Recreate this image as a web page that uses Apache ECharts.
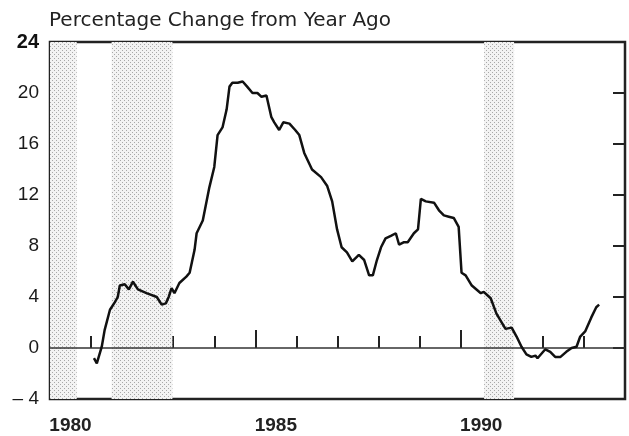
<!DOCTYPE html>
<html>
<head>
<meta charset="utf-8">
<script src="https://cdn.jsdelivr.net/npm/echarts@6/dist/echarts.min.js"></script>
<style>
  html, body { margin: 0; padding: 0; background: #fff; }
  #main { width: 629px; height: 436px; }
</style>
</head>
<body>
<div id="main"></div>
<script>
  // year-over-year percentage change (year as decimal)
  const years = [
    1981.07, 1981.14, 1981.26, 1981.33, 1981.46, 1981.58, 1981.65, 1981.70, 1981.82, 1981.92,
    1982.02, 1982.14, 1982.35, 1982.60, 1982.72, 1982.82, 1982.89, 1982.96, 1983.03, 1983.15,
    1983.32, 1983.40, 1983.52, 1983.57, 1983.72, 1983.88, 1984.00, 1984.08, 1984.20, 1984.30,
    1984.37, 1984.44, 1984.57, 1984.69, 1984.80, 1984.93, 1985.05, 1985.15, 1985.27, 1985.39,
    1985.46, 1985.58, 1985.68, 1985.83, 1985.97, 1986.07, 1986.19, 1986.38, 1986.60, 1986.75,
    1986.87, 1986.99, 1987.10, 1987.23, 1987.36, 1987.52, 1987.65, 1987.77, 1987.86, 1987.96,
    1988.06, 1988.17, 1988.30, 1988.42, 1988.50, 1988.62, 1988.71, 1988.86, 1988.96, 1989.03,
    1989.15, 1989.35, 1989.47, 1989.59, 1989.71, 1989.83, 1989.95, 1990.02, 1990.12, 1990.27,
    1990.49, 1990.56, 1990.73, 1990.87, 1991.09, 1991.24, 1991.36, 1991.48, 1991.60, 1991.72,
    1991.82, 1991.87, 1992.06, 1992.18, 1992.30, 1992.43, 1992.57, 1992.70, 1992.82, 1992.91,
    1993.03, 1993.18, 1993.30, 1993.37
  ];
  const changes = [
    -0.8, -1.2, 0.1, 1.4, 3.0, 3.6, 4.0, 4.9, 5.0, 4.6,
    5.2, 4.6, 4.3, 4.0, 3.4, 3.5, 4.0, 4.7, 4.3, 5.1,
    5.6, 5.9, 7.7, 9.0, 10.0, 12.6, 14.2, 16.7, 17.3, 18.7,
    20.5, 20.8, 20.8, 20.9, 20.5, 20.0, 20.0, 19.7, 19.8, 18.1,
    17.7, 17.1, 17.7, 17.6, 17.1, 16.7, 15.3, 14.0, 13.4, 12.7,
    11.5, 9.3, 7.9, 7.5, 6.8, 7.3, 6.9, 5.7, 5.7, 6.9,
    7.9, 8.6, 8.8, 9.0, 8.1, 8.3, 8.3, 9.0, 9.3, 11.7,
    11.5, 11.4, 10.8, 10.4, 10.3, 10.2, 9.5, 5.9, 5.7, 4.9,
    4.3, 4.4, 3.9, 2.7, 1.5, 1.6, 0.9, 0.1, -0.5, -0.7,
    -0.6, -0.8, -0.1, -0.3, -0.7, -0.7, -0.3, 0.0, 0.1, 0.9,
    1.3, 2.4, 3.2, 3.4
  ];
  // shaded recession periods
  const recessions = [[1980.0, 1980.65], [1981.5, 1982.98], [1990.57, 1991.3]];
  const labeledYears = [1980, 1985, 1990];

  // dotted fill like the printed stipple
  function makeDots() {
    const c = document.createElement('canvas');
    c.width = 4; c.height = 4;
    const g = c.getContext('2d');
    g.fillStyle = '#f3f3f3';
    g.fillRect(0, 0, 4, 4);
    g.fillStyle = '#a8a8a8';
    g.fillRect(0, 0, 1, 1);
    g.fillRect(2, 2, 1, 1);
    return c;
  }

  const chart = echarts.init(document.getElementById('main'));
  const ink = '#222';

  const option = {
    animation: false,
    title: {
      text: 'Percentage Change from Year Ago',
      left: 49,
      top: 11,
      padding: 0,
      textStyle: { fontFamily: 'DejaVu Sans', fontSize: 20, fontWeight: 'normal', color: ink }
    },
    grid: {
      left: 50, right: 4, top: 42, bottom: 37,
      show: true, borderColor: ink, borderWidth: 2.5, backgroundColor: 'transparent'
    },
    xAxis: [
      {
        type: 'value', min: 1980, max: 1994, interval: 1, position: 'bottom',
        axisLine: { show: false },
        axisTick: { inside: true, length: 12, lineStyle: { color: ink, width: 2 } },
        splitLine: { show: false },
        axisLabel: {
          margin: 17,
          padding: [0, 0, 0, 41],
          fontFamily: 'Liberation Sans', fontSize: 19, fontWeight: 'bold', color: ink,
          formatter: v => labeledYears.includes(v) ? String(v) : ''
        }
      },
      {
        type: 'value', min: 1980, max: 1994, interval: 5, position: 'bottom',
        axisLine: { show: false },
        axisTick: { inside: true, length: 18, lineStyle: { color: ink, width: 2 } },
        splitLine: { show: false },
        axisLabel: { show: false }
      }
    ],
    yAxis: [
      {
        type: 'value', min: -4, max: 24, interval: 4, position: 'left',
        axisLine: { show: false },
        axisTick: { inside: true, length: 12, lineStyle: { color: ink, width: 2 } },
        splitLine: { show: false },
        axisLabel: {
          margin: 11,
          fontFamily: 'Liberation Sans', fontSize: 19, color: '#1a1a1a',
          formatter: v => v === 24 ? '{b|24}' : (v < 0 ? '\u2013 ' + Math.abs(v) : String(v)),
          rich: { b: { fontFamily: 'Liberation Sans', fontSize: 20, fontWeight: 'bold', color: '#111' } }
        }
      },
      {
        type: 'value', min: -4, max: 24, interval: 4, position: 'right',
        axisLine: { show: false },
        axisTick: { inside: true, length: 12, lineStyle: { color: ink, width: 2 } },
        splitLine: { show: false },
        axisLabel: { show: false }
      }
    ],
    series: [
      {
        name: 'recessions',
        type: 'line',
        data: [],
        silent: true,
        markArea: {
          silent: true,
          itemStyle: { color: { image: makeDots(), repeat: 'repeat' } },
          data: recessions.map(r => [{ xAxis: r[0] }, { xAxis: r[1] }])
        },
        markLine: {
          silent: true,
          symbol: 'none',
          label: { show: false },
          lineStyle: { color: '#333', width: 1.5, type: 'solid' },
          data: [{ yAxis: 0 }]
        }
      },
      {
        name: 'change',
        type: 'line',
        showSymbol: false,
        lineStyle: { color: '#111', width: 2.5 },
        data: years.map((y, i) => [y, changes[i]]),
        z: 5
      }
    ]
  };

  chart.setOption(option);
</script>
</body>
</html>
